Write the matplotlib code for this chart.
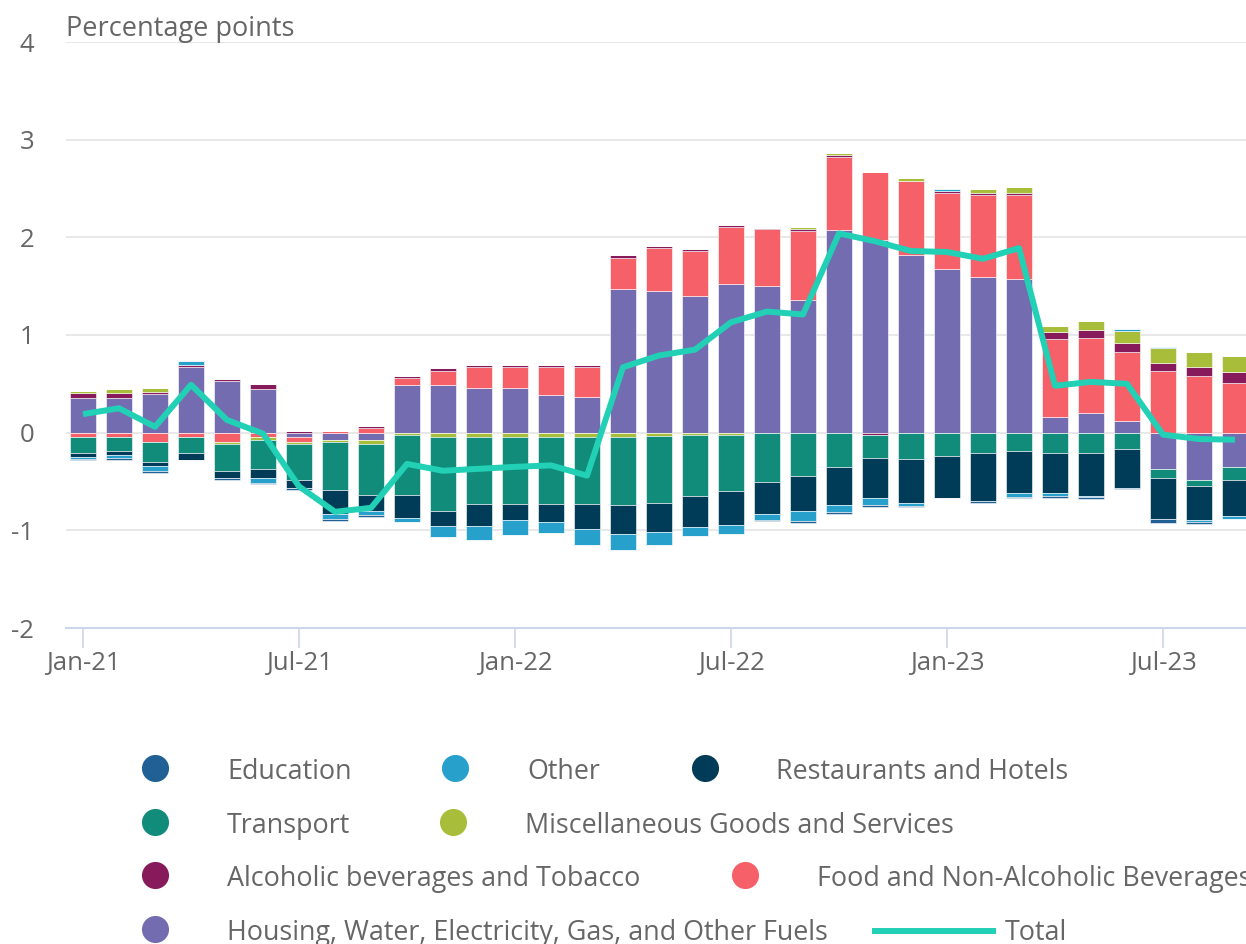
import numpy as np
import matplotlib
matplotlib.use("Agg")
import matplotlib.pyplot as plt
from matplotlib.lines import Line2D

plt.rcParams['font.family'] = ['Open Sans', 'DejaVu Sans']

months = ["Jan-21", "Feb-21", "Mar-21", "Apr-21", "May-21", "Jun-21", "Jul-21", "Aug-21",
          "Sep-21", "Oct-21", "Nov-21", "Dec-21", "Jan-22", "Feb-22", "Mar-22", "Apr-22",
          "May-22", "Jun-22", "Jul-22", "Aug-22", "Sep-22", "Oct-22", "Nov-22", "Dec-22",
          "Jan-23", "Feb-23", "Mar-23", "Apr-23", "May-23", "Jun-23", "Jul-23", "Aug-23",
          "Sep-23"]
tick_labels = ["Jan-21", "Jul-21", "Jan-22", "Jul-22", "Jan-23", "Jul-23"]

housing = [0.36, 0.36, 0.40, 0.67, 0.53, 0.45, -0.045, -0.075, -0.075, 0.485, 0.485, 0.46,
           0.46, 0.39, 0.37, 1.47, 1.45, 1.40, 1.52, 1.50, 1.36, 2.08, 1.97, 1.82,
           1.68, 1.59, 1.57, 0.16, 0.205, 0.12, -0.37, -0.48, -0.35]
food = [-0.044, -0.044, -0.096, -0.044, -0.096, -0.044, -0.05, 0.015, 0.05, 0.072, 0.143, 0.21,
        0.21, 0.28, 0.30, 0.32, 0.44, 0.46, 0.59, 0.59, 0.70, 0.74, 0.70, 0.76,
        0.77, 0.84, 0.86, 0.80, 0.76, 0.71, 0.63, 0.58, 0.51]
alcohol = [0.044, 0.044, 0.02, 0.024, 0.024, 0.051, 0.02, 0.0, 0.02, 0.02, 0.038, 0.02,
           0.02, 0.02, 0.02, 0.024, 0.024, 0.024, 0.012, 0.01, 0.024, 0.024, -0.02, 0.0,
           0.024, 0.02, 0.02, 0.068, 0.089, 0.092, 0.086, 0.089, 0.113]
misc = [0.024, 0.044, 0.038, 0.0, -0.024, -0.03, -0.02, -0.024, -0.04, -0.02, -0.04, -0.044,
        -0.044, -0.044, -0.044, -0.048, -0.03, -0.027, -0.027, 0.0, 0.02, 0.017, 0.0, 0.027,
        0.0, 0.04, 0.069, 0.068, 0.092, 0.116, 0.147, 0.161, 0.164]
transport = [-0.164, -0.14, -0.205, -0.164, -0.276, -0.294, -0.365, -0.49, -0.52, -0.614, -0.758, -0.686,
             -0.686, -0.686, -0.69, -0.69, -0.69, -0.62, -0.575, -0.507, -0.447, -0.354, -0.244, -0.265,
             -0.234, -0.213, -0.19, -0.21, -0.21, -0.168, -0.092, -0.068, -0.137]
restaurants = [-0.041, -0.048, -0.044, -0.068, -0.068, -0.092, -0.085, -0.246, -0.167, -0.235, -0.157, -0.229,
               -0.16, -0.184, -0.253, -0.295, -0.295, -0.32, -0.342, -0.325, -0.36, -0.385, -0.405, -0.454,
               -0.436, -0.485, -0.43, -0.41, -0.44, -0.394, -0.418, -0.342, -0.37]
other = [-0.024, -0.03, -0.048, 0.041, 0.0, -0.051, 0.0, -0.05, -0.044, -0.041, -0.116, -0.137,
         -0.16, -0.113, -0.16, -0.164, -0.134, -0.092, -0.09, -0.065, -0.10, -0.076, -0.076, -0.027,
         0.017, 0.0, -0.034, -0.027, -0.01, 0.02, 0.017, -0.027, -0.024]
education = [-0.005, -0.014, -0.02, 0.0, -0.02, -0.017, -0.027, -0.02, -0.02, 0.0, 0.0, 0.0,
             0.0, 0.0, 0.0, 0.0, 0.0, 0.0, 0.0, -0.005, -0.017, -0.017, -0.017, -0.017,
             0.0, -0.02, -0.017, -0.017, -0.017, -0.017, -0.041, -0.02, -0.005]
total = [0.19, 0.25, 0.06, 0.49, 0.13, -0.01, -0.55, -0.81, -0.77, -0.32, -0.39, -0.37,
         -0.35, -0.335, -0.44, 0.67, 0.79, 0.85, 1.13, 1.24, 1.21, 2.04, 1.96, 1.86,
         1.85, 1.78, 1.89, 0.48, 0.52, 0.50, -0.02, -0.065, -0.072]

series_names = ["Education", "Other", "Restaurants and Hotels", "Transport",
                "Miscellaneous Goods and Services", "Alcoholic beverages and Tobacco",
                "Food and Non-Alcoholic Beverages",
                "Housing, Water, Electricity, Gas, and Other Fuels"]
series_values = [education, other, restaurants, transport, misc, alcohol, food, housing]
colors = ["#206095", "#27a0cc", "#003c57", "#118c7b", "#a8bd3a", "#871a5b", "#f66068", "#746cb1"]
total_color = "#22d0b6"
text_color = "#666666"

W, H = 1246, 944
fig = plt.figure(figsize=(W / 100, H / 100), dpi=100)
ax = fig.add_axes([66 / W, 1 - 628 / H, 1 - 66 / W, (628 - 42) / H])

x = np.arange(len(months))
pos_base = np.zeros(len(months))
neg_base = np.zeros(len(months))
# stack nearest zero: Housing first ... Education last
for vals, col in zip(reversed(series_values), reversed(colors)):
    v = np.array(vals, dtype=float)
    vp = np.where(v > 0, v, 0.0)
    vn = np.where(v < 0, v, 0.0)
    ax.bar(x, vp, bottom=pos_base, width=0.74, color=col, edgecolor="white",
           linewidth=0.4, zorder=2)
    ax.bar(x, vn, bottom=neg_base, width=0.74, color=col, edgecolor="white",
           linewidth=0.4, zorder=2)
    pos_base += vp
    neg_base += vn

ax.plot(x, total, color=total_color, linewidth=4.3, zorder=4,
        solid_joinstyle="round", solid_capstyle="butt")

ax.set_xlim(-17 / 36, (W - 83) / 36)
ax.set_ylim(-2, 4)
ax.set_yticks([-2, -1, 0, 1, 2, 3, 4])
ax.set_yticklabels(["-2", "-1", "0", "1", "2", "3", "4"])
ax.yaxis.grid(True, color="#e6e6e6", linewidth=1.3, zorder=0)
ax.set_axisbelow(True)
ax.tick_params(axis="y", length=0, pad=23, labelsize=18.5, labelcolor=text_color)

tick_pos = [months.index(m) for m in tick_labels]
ax.set_xticks(tick_pos)
ax.set_xticklabels(tick_labels)
ax.tick_params(axis="x", length=14.4, width=1.2, color="#ccd6eb", pad=2,
               labelsize=18.5, labelcolor=text_color)

for s in ["top", "right", "left"]:
    ax.spines[s].set_visible(False)
ax.spines["bottom"].set_color("#ccd6eb")
ax.spines["bottom"].set_linewidth(1.5)
ax.spines["bottom"].set_zorder(5)

fig.text(66 / W, 1 - 29 / H, "Percentage points", ha="left", va="center",
         fontsize=19.5, color=text_color)

# Legend (manual placement)
def fx(px):
    return px / W

def fy(py):
    return 1 - py / H

leg_items = [
    (0, 155, 227, 768), (1, 455, 527, 768), (2, 705, 776, 768),
    (3, 155, 227, 822), (4, 453, 525, 822),
    (5, 155, 227, 875), (6, 745, 817, 875),
    (7, 155, 227, 929),
]
for idx, mx, tx, my in leg_items:
    fig.add_artist(Line2D([fx(mx)], [fy(my)], marker="o", markersize=19.5,
                          markerfacecolor=colors[idx], markeredgecolor="none",
                          linestyle="none", transform=fig.transFigure))
    fig.text(fx(tx), fy(my + 4), series_names[idx], ha="left", va="center",
             fontsize=19.4, color=text_color)

fig.add_artist(Line2D([fx(875), fx(993)], [fy(931), fy(931)], color=total_color,
                      linewidth=4.3, transform=fig.transFigure))
fig.text(fx(1005), fy(933), "Total", ha="left", va="center", fontsize=19.4, color=text_color)

fig.savefig("out.png", dpi=100)
